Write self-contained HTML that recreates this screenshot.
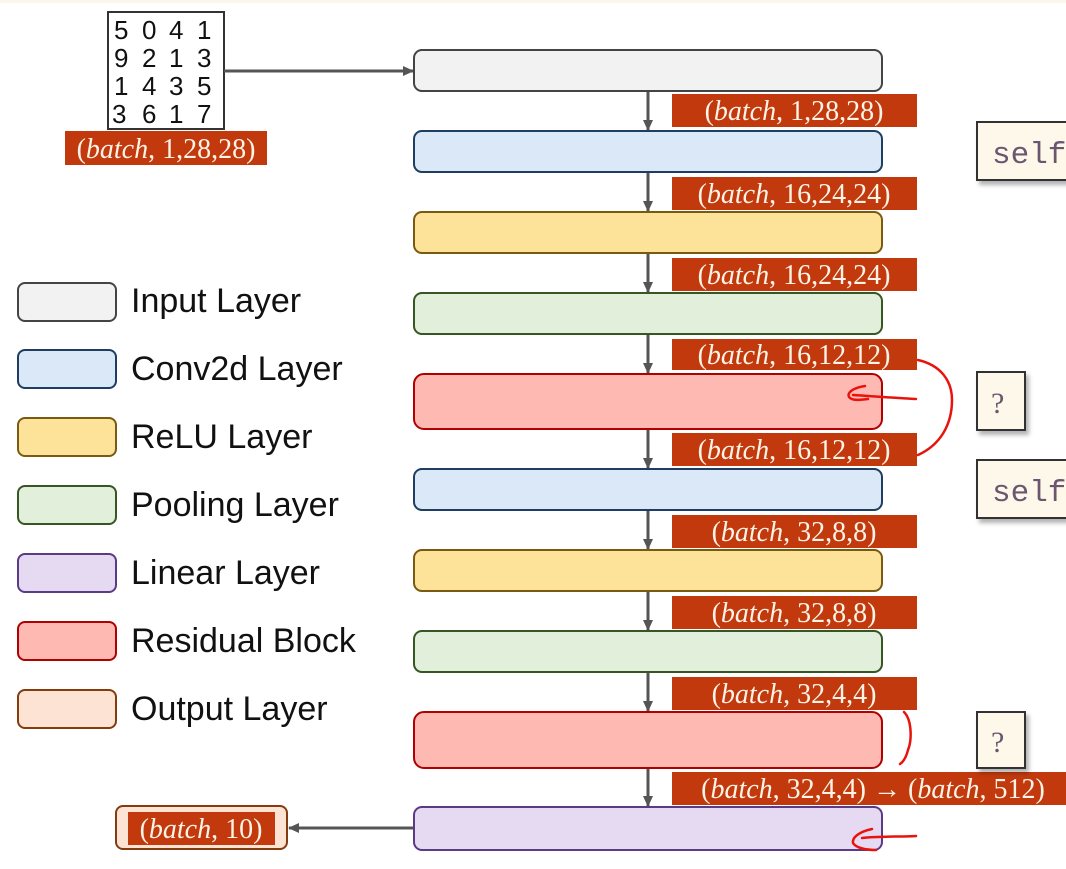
<!DOCTYPE html>
<html><head><meta charset="utf-8">
<style>
html,body{margin:0;padding:0;background:#fff;}
svg{display:block;}
.lt{font-family:"Liberation Sans",sans-serif;font-size:34px;fill:#111;}
.m{font-family:"Liberation Serif",serif;font-size:28px;fill:#fdf3e6;}
.dig{font-family:"Liberation Sans",sans-serif;font-size:26px;fill:#111;}
</style></head><body>
<svg width="1066" height="869" viewBox="0 0 1066 869" xmlns="http://www.w3.org/2000/svg">
<defs>
<marker id="ah" markerWidth="12" markerHeight="12" refX="10" refY="5" orient="auto" markerUnits="userSpaceOnUse">
<path d="M0,0 L11,5 L0,10 z" fill="#555"/></marker>
<filter id="sh" x="-20%" y="-20%" width="150%" height="150%"><feDropShadow dx="3" dy="4" stdDeviation="2" flood-color="#000" flood-opacity="0.3"/></filter>
</defs>
<rect x="0" y="0" width="1066" height="3" fill="#fdf6ea"/>

<!-- MNIST -->
<rect x="108" y="12" width="116" height="117" fill="#fff" stroke="#333" stroke-width="2"/>
<g class="dig">
<text x="114" y="39">5</text><text x="142" y="39">0</text><text x="169" y="39">4</text><text x="197" y="39">1</text>
<text x="114" y="67">9</text><text x="142" y="67">2</text><text x="169" y="67">1</text><text x="197" y="67">3</text>
<text x="114" y="95">1</text><text x="142" y="95">4</text><text x="169" y="95">3</text><text x="197" y="95">5</text>
<text x="112" y="123">3</text><text x="142" y="123">6</text><text x="169" y="123">1</text><text x="197" y="123">7</text>
</g>
<rect x="65" y="131" width="202" height="34" fill="#c1390c"/>
<text class="m" x="166" y="158" text-anchor="middle">(<tspan font-style="italic">batch</tspan>, 1,28,28)</text>
<line x1="224" y1="71" x2="413" y2="71" stroke="#555" stroke-width="3" marker-end="url(#ah)"/>

<!-- legend -->
<g stroke-width="2">
<rect x="18" y="283" width="98" height="38" rx="7" fill="#f2f2f2" stroke="#444"/>
<rect x="18" y="350" width="98" height="38" rx="7" fill="#dae8f7" stroke="#1f3d60"/>
<rect x="18" y="418" width="98" height="38" rx="7" fill="#fde29a" stroke="#7a5a10"/>
<rect x="18" y="486" width="98" height="38" rx="7" fill="#e2efda" stroke="#375623"/>
<rect x="18" y="554" width="98" height="38" rx="7" fill="#e6d9f2" stroke="#5b3a86"/>
<rect x="18" y="622" width="98" height="38" rx="7" fill="#ffb9b3" stroke="#b00000"/>
<rect x="18" y="690" width="98" height="38" rx="7" fill="#fde3d3" stroke="#843c0c"/>
</g>
<text class="lt" x="131" y="312">Input Layer</text>
<text class="lt" x="131" y="380">Conv2d Layer</text>
<text class="lt" x="131" y="448">ReLU Layer</text>
<text class="lt" x="131" y="516">Pooling Layer</text>
<text class="lt" x="131" y="584">Linear Layer</text>
<text class="lt" x="131" y="652">Residual Block</text>
<text class="lt" x="131" y="720">Output Layer</text>

<!-- arrows -->
<g stroke="#555" stroke-width="3" marker-end="url(#ah)">
<line x1="648" y1="92" x2="648" y2="130"/>
<line x1="648" y1="173" x2="648" y2="211"/>
<line x1="648" y1="254" x2="648" y2="292"/>
<line x1="648" y1="335" x2="648" y2="373"/>
<line x1="648" y1="430" x2="648" y2="468"/>
<line x1="648" y1="511" x2="648" y2="549"/>
<line x1="648" y1="592" x2="648" y2="630"/>
<line x1="648" y1="673" x2="648" y2="711"/>
<line x1="648" y1="769" x2="648" y2="806"/>
<line x1="413" y1="828" x2="289" y2="828"/>
</g>

<!-- main boxes -->
<g stroke-width="2">
<rect x="414" y="50" width="468" height="41" rx="8" fill="#f2f2f2" stroke="#444"/>
<rect x="414" y="131" width="468" height="41" rx="8" fill="#dae8f7" stroke="#1f3d60"/>
<rect x="414" y="212" width="468" height="41" rx="8" fill="#fde29a" stroke="#7a5a10"/>
<rect x="414" y="293" width="468" height="41" rx="8" fill="#e2efda" stroke="#375623"/>
<rect x="414" y="374" width="468" height="55" rx="10" fill="#ffb9b3" stroke="#b00000"/>
<rect x="414" y="469" width="468" height="41" rx="8" fill="#dae8f7" stroke="#1f3d60"/>
<rect x="414" y="550" width="468" height="41" rx="8" fill="#fde29a" stroke="#7a5a10"/>
<rect x="414" y="631" width="468" height="41" rx="8" fill="#e2efda" stroke="#375623"/>
<rect x="414" y="712" width="468" height="56" rx="10" fill="#ffb9b3" stroke="#b00000"/>
<rect x="414" y="807" width="468" height="43" rx="8" fill="#e6d9f2" stroke="#5b3a86"/>
</g>

<!-- labels -->
<g fill="#c1390c">
<rect x="672" y="94" width="245" height="33"/>
<rect x="672" y="177" width="245" height="33"/>
<rect x="672" y="258" width="245" height="33"/>
<rect x="672" y="339" width="245" height="31"/>
<rect x="672" y="433" width="245" height="33"/>
<rect x="672" y="515" width="245" height="33"/>
<rect x="672" y="596" width="245" height="33"/>
<rect x="672" y="677" width="245" height="33"/>
<rect x="672" y="772" width="394" height="33"/>
</g>
<g class="m" text-anchor="middle">
<text x="794" y="120">(<tspan font-style="italic">batch</tspan>, 1,28,28)</text>
<text x="794" y="203">(<tspan font-style="italic">batch</tspan>, 16,24,24)</text>
<text x="794" y="284">(<tspan font-style="italic">batch</tspan>, 16,24,24)</text>
<text x="794" y="364">(<tspan font-style="italic">batch</tspan>, 16,12,12)</text>
<text x="794" y="459">(<tspan font-style="italic">batch</tspan>, 16,12,12)</text>
<text x="794" y="541">(<tspan font-style="italic">batch</tspan>, 32,8,8)</text>
<text x="794" y="622">(<tspan font-style="italic">batch</tspan>, 32,8,8)</text>
<text x="794" y="703">(<tspan font-style="italic">batch</tspan>, 32,4,4)</text>
<text x="873" y="798">(<tspan font-style="italic">batch</tspan>, 32,4,4) → (<tspan font-style="italic">batch</tspan>, 512)</text>
</g>

<!-- output -->
<rect x="116" y="806" width="171" height="43" rx="7" fill="#fde3d3" stroke="#843c0c" stroke-width="2"/>
<rect x="128" y="812" width="147" height="33" fill="#c1390c"/>
<text class="m" x="201" y="838" text-anchor="middle">(<tspan font-style="italic">batch</tspan>, 10)</text>

<!-- right boxes -->
<g filter="url(#sh)" fill="#fdf8ea" stroke="#333" stroke-width="2">
<rect x="977" y="122" width="100" height="58"/>
<rect x="977" y="372" width="48" height="58"/>
<rect x="977" y="460" width="100" height="58"/>
<rect x="977" y="712" width="48" height="56"/>
</g>
<g font-family="'Liberation Mono',monospace" font-size="31" fill="#6b5670">
<text x="992" y="163">self</text>
<text x="992" y="501">self</text>
</g>
<g font-family="'Liberation Serif',serif" font-size="30" fill="#6b5670">
<text x="991" y="413">?</text>
<text x="991" y="752">?</text>
</g>

<!-- red annotations -->
<g fill="none" stroke="#e8130c" stroke-width="2.5" stroke-linecap="round">
<path d="M918,360 C940,365 952,380 952,400 C952,425 940,445 918,455"/>
<path d="M916,399 C895,398 870,396 853,395"/>
<path d="M865,386 C852,388 847,393 849,397 C852,401 860,400 868,399"/>
<path d="M904,712 C912,720 912,740 908,750 C906,758 903,762 900,764"/>
<path d="M916,836 C900,837 880,836 862,838"/>
<path d="M872,829 C858,832 852,838 853,843 C856,848 866,850 876,850"/>
</g>
</svg>
</body></html>
